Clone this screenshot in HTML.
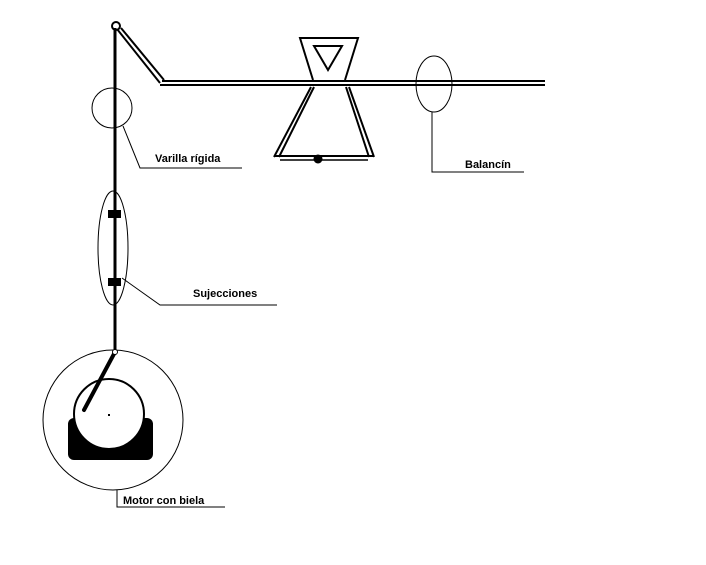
<!DOCTYPE html>
<html><head><style>body{margin:0;background:#fff}svg{display:block}</style></head><body>
<svg width="706" height="565" xmlns="http://www.w3.org/2000/svg" font-family="Liberation Sans, sans-serif" font-size="11" font-weight="bold">
<rect width="706" height="565" fill="#fff"/>
<g stroke="#000" fill="none">
<line x1="115" y1="28" x2="115" y2="352" stroke-width="3"/>
<circle cx="116" cy="26" r="4" stroke-width="2"/>
<line x1="117" y1="29" x2="160" y2="83" stroke-width="2"/>
<line x1="121" y1="28" x2="164" y2="80" stroke-width="2"/>
<line x1="162" y1="81" x2="545" y2="81" stroke-width="2"/>
<line x1="160" y1="85" x2="545" y2="85" stroke-width="2"/>
<polyline points="313,80 300,38 358,38 345,80" stroke-width="2"/>
<polygon points="314,46 342,46 328,70" stroke-width="2"/>
<line x1="311" y1="87" x2="274" y2="157" stroke-width="2"/>
<line x1="314" y1="87" x2="279" y2="157" stroke-width="2"/>
<line x1="346" y1="87" x2="369" y2="157" stroke-width="2"/>
<line x1="349" y1="87" x2="374" y2="157" stroke-width="2"/>
<line x1="275" y1="156" x2="373" y2="156" stroke-width="2"/>
<line x1="280" y1="160" x2="368" y2="160" stroke-width="1.5"/>
<circle cx="112" cy="108" r="20" stroke-width="1"/>
<polyline points="123,126 140,168 242,168" stroke-width="1"/>
<ellipse cx="434" cy="84" rx="18" ry="28" stroke-width="1"/>
<polyline points="432,112 432,172 524,172" stroke-width="1"/>
<ellipse cx="113" cy="248" rx="15" ry="57" stroke-width="1"/>
<polyline points="122,278 160,305 277,305" stroke-width="1"/>
<circle cx="113" cy="420" r="70" stroke-width="1"/>
<polyline points="117,490 117,507 225,507" stroke-width="1"/>
</g>
<circle cx="318" cy="159" r="4.5" fill="#000"/>
<rect x="108" y="210" width="13" height="8" fill="#000"/>
<rect x="108" y="278" width="13" height="8" fill="#000"/>
<rect x="68" y="418" width="85" height="42" rx="6" fill="#000"/>
<circle cx="109" cy="414" r="35" fill="#fff" stroke="#000" stroke-width="2"/>
<rect x="108" y="414" width="2" height="2" fill="#000"/>
<line x1="115" y1="352" x2="84" y2="410" stroke="#000" stroke-width="4" stroke-linecap="round"/>
<circle cx="115" cy="352" r="2.5" fill="#fff" stroke="#000" stroke-width="1"/>
<text x="155" y="162">Varilla rígida</text>
<text x="465" y="168">Balancín</text>
<text x="193" y="297">Sujecciones</text>
<text x="123" y="504">Motor con biela</text>
</svg>
</body></html>
